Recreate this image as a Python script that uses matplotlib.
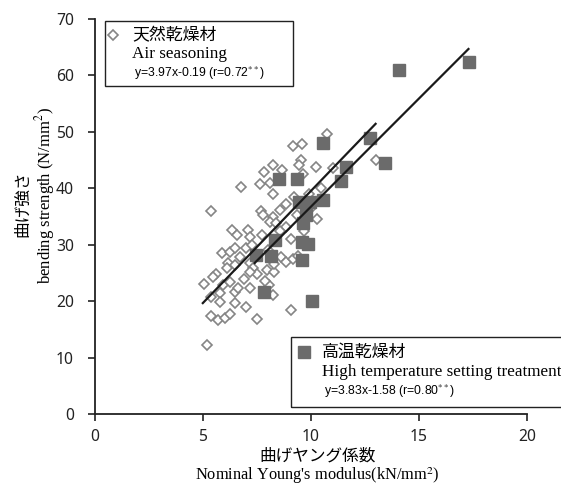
import matplotlib
matplotlib.use("Agg")
import matplotlib.pyplot as plt
from matplotlib.patches import Rectangle
from matplotlib.lines import Line2D

# air seasoning (open diamonds)
air_x = [10.73, 9.18, 9.58, 9.54, 9.44, 8.23, 8.69, 10.23, 11.03, 13.04, 7.84, 9.65,
         7.64, 8.10, 6.79, 8.23, 10.49, 5.40, 7.69, 7.79, 8.56, 8.87, 9.34, 8.25,
         8.10, 8.41, 8.87, 6.33, 7.10, 6.59, 7.76, 7.18, 8.56, 9.10, 5.87, 6.25,
         6.48, 6.71, 7.02, 6.17, 6.48, 7.18, 7.33, 8.64, 8.87, 9.18, 5.63, 6.10,
         5.48, 7.49, 7.95, 8.30, 7.18, 5.05, 5.94, 6.25, 6.48, 6.64, 7.18, 8.07,
         8.25, 5.40, 5.79, 5.79, 6.48, 7.02, 5.40, 5.71, 6.05, 6.25, 7.49, 9.10,
         5.20, 9.9, 9.2, 10.0, 7.3, 8.0, 9.4, 6.9, 7.9, 8.3, 9.7, 10.3]
air_y = [49.7, 47.5, 47.8, 45.0, 44.1, 44.2, 43.2, 43.8, 43.6, 45.1, 42.8, 42.5,
         40.7, 40.9, 40.2, 38.9, 40.1, 35.9, 36.0, 35.3, 36.2, 37.2, 35.3, 35.0,
         34.1, 33.8, 33.2, 32.6, 32.6, 31.7, 31.7, 31.4, 32.4, 31.1, 28.5, 28.8,
         29.4, 27.9, 29.4, 26.7, 26.4, 26.7, 25.8, 27.9, 27.0, 27.4, 24.9, 25.8,
         24.3, 24.9, 25.5, 25.2, 25.1, 23.0, 22.9, 23.4, 21.7, 22.3, 22.3, 22.9,
         21.1, 20.8, 21.4, 19.9, 19.6, 19.0, 17.4, 16.7, 17.0, 17.8, 16.8, 18.4,
         12.3, 39.0, 38.5, 36.5, 30.0, 29.0, 28.0, 24.0, 23.5, 26.5, 32.5, 34.5]

# high temperature setting treatment (filled squares)
ht_x = [14.09, 17.31, 13.43, 12.73, 10.57, 11.65, 11.40, 8.52, 9.34, 9.44, 9.95,
        10.57, 9.80, 9.65, 8.33, 9.57, 9.85, 7.45, 8.18, 9.60, 7.84, 10.06]
ht_y = [61.0, 62.3, 44.5, 48.9, 48.1, 43.8, 41.3, 41.6, 41.6, 37.6, 37.6,
        38.0, 35.3, 33.9, 30.8, 30.5, 30.2, 28.2, 28.0, 27.3, 21.6, 20.0]

# regression lines: slope, intercept, x range
air_fit = (3.97, -0.19, 5.0, 13.0)
ht_fit = (3.83, -1.58, 7.4, 17.3)

xticks = [0, 5, 10, 15, 20]
yticks = [0, 10, 20, 30, 40, 50, 60, 70]

CJK = ["Noto Sans CJK JP", "DejaVu Sans"]
SERIF = ["Liberation Serif", "DejaVu Serif"]
EQ = ["Liberation Sans Narrow", "Liberation Sans", "DejaVu Sans"]

plt.rcParams["mathtext.fontset"] = "stix"

fig = plt.figure(figsize=(5.61, 4.86), dpi=100)
ax = fig.add_axes([0.169, 0.148, 0.770, 0.813])

ax.plot(air_x, air_y, linestyle="none", marker="D", markersize=5.2,
        markerfacecolor="white", markeredgecolor="#858585", markeredgewidth=1.2, zorder=2)
ax.plot(ht_x, ht_y, linestyle="none", marker="s", markersize=8.7,
        markerfacecolor="#6b6b6b", markeredgecolor="#6b6b6b", zorder=3)

for a, b, x0, x1 in (air_fit, ht_fit):
    ax.plot([x0, x1], [a * x0 + b, a * x1 + b], color="#1a1a1a", linewidth=1.6, zorder=4)

ax.set_xlim(0, 20)
ax.set_ylim(0, 70)
ax.set_xticks(xticks)
ax.set_yticks(yticks)
ax.spines["top"].set_visible(False)
ax.spines["right"].set_visible(False)
for s in ("left", "bottom"):
    ax.spines[s].set_linewidth(1.3)
    ax.spines[s].set_color("#222222")
ax.tick_params(direction="out", length=5, width=1.2, labelsize=11.3,
               colors="#222222")
ax.tick_params(axis="y", pad=10)
ax.tick_params(axis="x", pad=6)
for lab in ax.get_xticklabels() + ax.get_yticklabels():
    lab.set_family("Noto Sans")

# axis titles
fig.text(23 / 561, 1 - 204 / 486, "曲げ強さ", rotation=90, ha="center", va="center",
         fontsize=12, family=CJK)
fig.text(45 / 561, 1 - 195 / 486, "bending strength (N/mm$^2$)", rotation=90, ha="center",
         va="center", fontsize=12, family=SERIF)
fig.text(318 / 561, 1 - 456 / 486, "曲げヤング係数", ha="center", va="center",
         fontsize=12, family=CJK)
fig.text(317 / 561, 1 - 476 / 486, "Nominal Young's modulus(kN/mm$^2$)", ha="center",
         va="center", fontsize=11.8, family=SERIF)

# legend box 1
fig.add_artist(Rectangle((105 / 561, 1 - 86 / 486), 188 / 561, 65 / 486,
                         transform=fig.transFigure, fill=False,
                         edgecolor="#222222", linewidth=1.0))
fig.add_artist(Line2D([113 / 561], [1 - 35 / 486], transform=fig.transFigure,
                      marker="D", markersize=5, markerfacecolor="white",
                      markeredgecolor="#858585", markeredgewidth=1.2))
fig.text(132 / 561, 1 - 35 / 486, "天然乾燥材", va="center", fontsize=12.2, family=CJK)
fig.text(132 / 561, 1 - 54 / 486, "Air seasoning", va="center", fontsize=12.3, family=SERIF)
fig.text(134 / 561, 1 - 73 / 486, "y=3.97x-0.19 (r=0.72$^{**}$)", va="center",
         fontsize=8.8, family=EQ)

# legend box 2
fig.add_artist(Rectangle((291 / 561, 1 - 407 / 486), 280 / 561, 70 / 486,
                         transform=fig.transFigure, fill=False,
                         edgecolor="#222222", linewidth=1.0))
fig.add_artist(Line2D([304 / 561], [1 - 352 / 486], transform=fig.transFigure,
                      marker="s", markersize=8, markerfacecolor="#6b6b6b",
                      markeredgecolor="#6b6b6b"))
fig.text(322 / 561, 1 - 352 / 486, "高温乾燥材", va="center", fontsize=12.2, family=CJK)
fig.text(322 / 561, 1 - 372 / 486, "High temperature setting treatment", va="center",
         fontsize=12.3, family=SERIF)
fig.text(324 / 561, 1 - 391 / 486, "y=3.83x-1.58 (r=0.80$^{**}$)", va="center",
         fontsize=8.8, family=EQ)

fig.savefig("out.png", dpi=100)
